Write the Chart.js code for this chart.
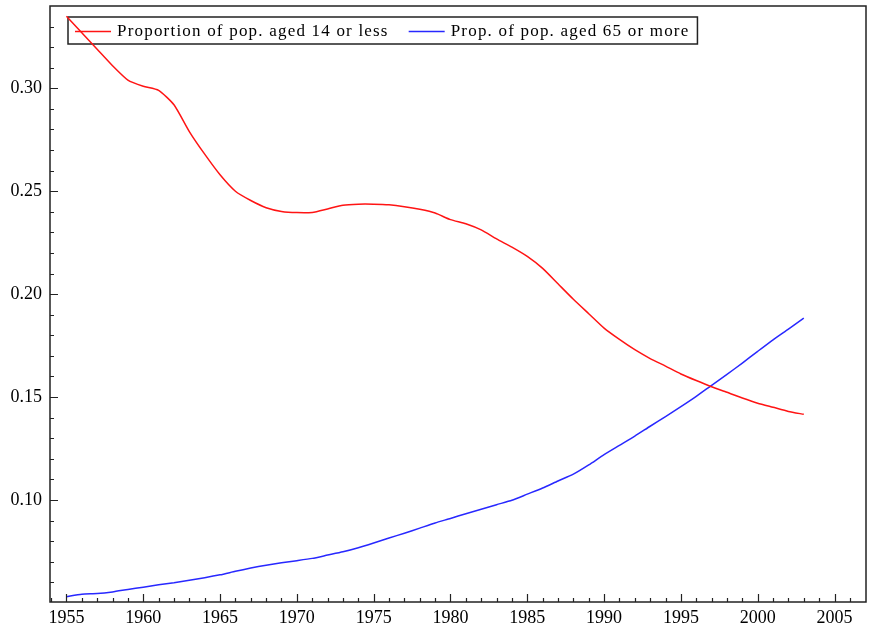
<!DOCTYPE html>
<html>
<head>
<meta charset="utf-8">
<script src="https://cdn.jsdelivr.net/npm/chart.js@4.4.0/dist/chart.umd.min.js"></script>
<style>
html, body { margin: 0; padding: 0; background: #fff; }
#wrap { width: 870px; height: 629px; }
</style>
</head>
<body>
<div id="wrap"><canvas id="popChart" width="870" height="629"></canvas></div>
<script>
const years = [1955, 1956, 1957, 1958, 1959, 1960, 1961, 1962, 1963, 1964,
  1965, 1966, 1967, 1968, 1969, 1970, 1971, 1972, 1973, 1974,
  1975, 1976, 1977, 1978, 1979, 1980, 1981, 1982, 1983, 1984,
  1985, 1986, 1987, 1988, 1989, 1990, 1991, 1992, 1993, 1994,
  1995, 1996, 1997, 1998, 1999, 2000, 2001, 2002, 2003];

// share of population aged 14 or less
const youngShare = [0.335, 0.327, 0.319, 0.311, 0.304, 0.301, 0.299, 0.292, 0.279, 0.268,
  0.258, 0.250, 0.2455, 0.2420, 0.2402, 0.2396, 0.2397, 0.2414, 0.2432, 0.2437,
  0.2437, 0.2434, 0.2425, 0.2412, 0.2394, 0.2362, 0.2342, 0.2312, 0.2268, 0.2228,
  0.2183, 0.2125, 0.2050, 0.1975, 0.1905, 0.1835, 0.1780, 0.1730, 0.1687, 0.1650,
  0.1612, 0.1580, 0.1550, 0.1523, 0.1495, 0.1470, 0.1450, 0.1430, 0.1416];

// share of population aged 65 or more
const oldShare = [0.0530, 0.0542, 0.0545, 0.0553, 0.0565, 0.0576, 0.0588, 0.0598, 0.0610, 0.0622,
  0.0636, 0.0653, 0.0669, 0.0683, 0.0695, 0.0705, 0.0716, 0.0732, 0.0748, 0.0768,
  0.0791, 0.0815, 0.0838, 0.0863, 0.0888, 0.0910, 0.0933, 0.0955, 0.0977, 0.0998,
  0.1028, 0.1058, 0.1092, 0.1125, 0.1170, 0.1220, 0.1265, 0.1310, 0.1358, 0.1405,
  0.1453, 0.1503, 0.1557, 0.1610, 0.1665, 0.1722, 0.1778, 0.1830, 0.1883];

const seriesLabels = ['Proportion of pop. aged 14 or less', 'Prop. of pop. aged 65 or more'];
const seriesColors = ['rgb(255, 20, 20)', 'rgb(40, 40, 255)'];

const xTicks = [1955, 1960, 1965, 1970, 1975, 1980, 1985, 1990, 1995, 2000, 2005];
const xMinorTicks = [1954, 1955, 1956, 1957, 1958, 1959, 1960, 1961, 1962, 1963, 1964,
  1965, 1966, 1967, 1968, 1969, 1970, 1971, 1972, 1973, 1974, 1975, 1976, 1977, 1978,
  1979, 1980, 1981, 1982, 1983, 1984, 1985, 1986, 1987, 1988, 1989, 1990, 1991, 1992,
  1993, 1994, 1995, 1996, 1997, 1998, 1999, 2000, 2001, 2002, 2003, 2004, 2005, 2006, 2007];
const yTicks = [0.10, 0.15, 0.20, 0.25, 0.30];
const yMinorTicks = [0.06, 0.07, 0.08, 0.09, 0.10, 0.11, 0.12, 0.13, 0.14, 0.15, 0.16,
  0.17, 0.18, 0.19, 0.20, 0.21, 0.22, 0.23, 0.24, 0.25, 0.26, 0.27, 0.28, 0.29, 0.30,
  0.31, 0.32, 0.33];

const FONT = 'Liberation Serif';

const toPoints = (vals) => years.map((y, i) => ({ x: y, y: vals[i] }));

// legend box inside the plot, drawn under the lines
const boxLegend = {
  id: 'boxLegend',
  beforeDatasetsDraw(chart) {
    const ctx = chart.ctx;
    const area = chart.chartArea;
    const left = area.left + 18;
    const top = area.top + 11;
    const h = 27;
    ctx.save();
    ctx.font = '17px "' + FONT + '"';
    ctx.letterSpacing = '1.2px';
    ctx.textBaseline = 'middle';
    let x = left + 7;
    const midY = top + h / 2 + 1;
    chart.data.datasets.forEach((ds, i) => {
      ctx.strokeStyle = ds.borderColor;
      ctx.lineWidth = 1.6;
      ctx.beginPath();
      ctx.moveTo(x, midY);
      ctx.lineTo(x + 36, midY);
      ctx.stroke();
      x += 42;
      ctx.fillStyle = '#000';
      ctx.fillText(ds.label, x, midY);
      x += ctx.measureText(ds.label).width;
      if (i < chart.data.datasets.length - 1) x += 20;
    });
    x += 8;
    ctx.strokeStyle = '#222';
    ctx.lineWidth = 1.5;
    ctx.strokeRect(left, top, x - left, h);
    ctx.restore();
  }
};

// frame round the plot with inward major and minor ticks
const frameTicks = {
  id: 'frameTicks',
  afterDatasetsDraw(chart) {
    const ctx = chart.ctx;
    const a = chart.chartArea;
    const xs = chart.scales.x;
    const ys = chart.scales.y;
    ctx.save();
    ctx.strokeStyle = '#222';
    ctx.lineWidth = 1.5;
    ctx.strokeRect(a.left, a.top, a.right - a.left, a.bottom - a.top);
    ctx.lineWidth = 1.2;
    ctx.beginPath();
    xMinorTicks.forEach(v => {
      const px = Math.round(xs.getPixelForValue(v)) + 0.5;
      if (px <= a.left + 1 || px >= a.right - 1) return;
      const len = xTicks.includes(v) ? 8 : 4;
      ctx.moveTo(px, a.bottom);
      ctx.lineTo(px, a.bottom - len);
    });
    yMinorTicks.forEach(v => {
      const py = Math.round(ys.getPixelForValue(v)) + 0.5;
      if (py <= a.top + 1 || py >= a.bottom - 1) return;
      const major = yTicks.some(t => Math.abs(t - v) < 1e-9);
      ctx.moveTo(a.left, py);
      ctx.lineTo(a.left + (major ? 8 : 4), py);
    });
    ctx.stroke();
    ctx.restore();
  }
};

new Chart(document.getElementById('popChart'), {
  type: 'line',
  data: {
    datasets: [
      {
        label: seriesLabels[0],
        data: toPoints(youngShare),
        borderColor: seriesColors[0],
        borderWidth: 1.5,
        pointRadius: 0,
        fill: false,
        tension: 0.2
      },
      {
        label: seriesLabels[1],
        data: toPoints(oldShare),
        borderColor: seriesColors[1],
        borderWidth: 1.5,
        pointRadius: 0,
        fill: false,
        tension: 0.2
      }
    ]
  },
  options: {
    responsive: false,
    animation: false,
    devicePixelRatio: 1,
    layout: { padding: { top: 6, right: 4, left: 0, bottom: 0 } },
    plugins: {
      legend: { display: false },
      tooltip: { enabled: false }
    },
    scales: {
      x: {
        type: 'linear',
        min: 1953.93,
        max: 2007.05,
        grid: { display: false, drawTicks: false },
        border: { display: false },
        afterBuildTicks: s => { s.ticks = xTicks.map(v => ({ value: v })); },
        afterFit: s => { s.height = 27; s.paddingLeft = 0; s.paddingRight = 0; },
        ticks: {
          color: '#000',
          padding: 5,
          maxRotation: 0,
          font: { family: FONT, size: 18 },
          callback: v => String(v)
        }
      },
      y: {
        type: 'linear',
        min: 0.0504,
        max: 0.34,
        grid: { display: false, drawTicks: false },
        border: { display: false },
        afterBuildTicks: s => { s.ticks = yTicks.map(v => ({ value: v })); },
        afterFit: s => { s.width = 50; s.paddingTop = 0; s.paddingBottom = 0; },
        ticks: {
          color: '#000',
          padding: 8,
          font: { family: FONT, size: 18 },
          callback: v => v.toFixed(2)
        }
      }
    }
  },
  plugins: [boxLegend, frameTicks]
});
</script>
</body>
</html>
